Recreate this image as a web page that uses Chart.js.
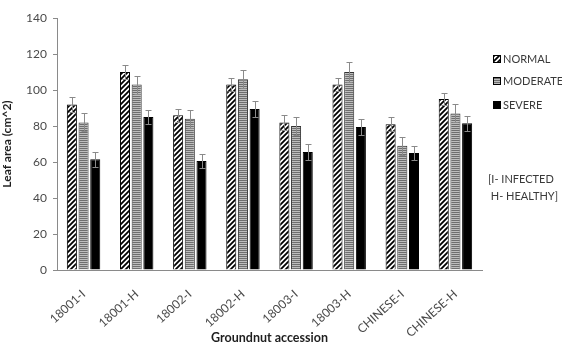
<!DOCTYPE html>
<html>
<head>
<meta charset="utf-8">
<script src="https://cdn.jsdelivr.net/npm/chart.js@4/dist/chart.umd.min.js"></script>
<style>
  html, body { margin: 0; padding: 0; background: #fff; }
  #wrap { width: 562px; height: 345px; position: relative; }
</style>
</head>
<body>
<div id="wrap"><canvas id="c" width="562" height="345"></canvas></div>
<script>
// Groundnut accessions and leaf area (cm^2) per disease level
const categories = ['18001-I', '18001-H', '18002-I', '18002-H', '18003-I', '18003-H', 'CHINESE-I', 'CHINESE-H'];
const normal   = [92, 110, 86, 103, 82, 103, 81, 95];
const moderate = [82, 103, 84, 106, 80, 110, 69, 87];
const severe   = [61.5, 85, 60.5, 89.5, 65.5, 79.5, 65, 81.5];
// standard errors
const normalErr   = [4, 4, 3.5, 3.5, 4, 3.7, 4, 3.5];
const moderateErr = [5, 5, 5, 5, 5, 5.4, 5, 5];
const severeErr   = [4, 4, 4, 4.5, 4.3, 4.4, 4, 4.3];
const seriesNames = ['NORMAL', 'MODERATE', 'SEVERE'];
const yTicks = [0, 20, 40, 60, 80, 100, 120, 140];
const noteLines = ['[I- INFECTED', ' H- HEALTHY]'];

const FONT = 'Lato, "Open Sans", sans-serif';

function diagPattern() {
  const s = 5;
  const t = document.createElement('canvas');
  t.width = s; t.height = s;
  const g = t.getContext('2d');
  g.fillStyle = '#fff';
  g.fillRect(0, 0, s, s);
  g.strokeStyle = '#000';
  g.lineWidth = 1.8;
  g.beginPath();
  g.moveTo(-1, s + 1); g.lineTo(s + 1, -1);
  g.moveTo(-1, 1); g.lineTo(1, -1);
  g.moveTo(s - 1, s + 1); g.lineTo(s + 1, s - 1);
  g.stroke();
  return g.createPattern(t, 'repeat');
}
function hLinePattern() {
  const t = document.createElement('canvas');
  t.width = 4; t.height = 2;
  const g = t.getContext('2d');
  g.fillStyle = '#bdbdbd';
  g.fillRect(0, 0, 4, 2);
  g.fillStyle = '#6e6e6e';
  g.fillRect(0, 0, 4, 1);
  return g.createPattern(t, 'repeat');
}
const fills = [diagPattern(), hLinePattern(), '#000000'];
const errs = [normalErr, moderateErr, severeErr];

// error bars with caps
const errorBars = {
  id: 'errorBars',
  afterDatasetsDraw(chart) {
    const ctx = chart.ctx;
    const y = chart.scales.y;
    ctx.save();
    ctx.strokeStyle = '#8a8a8a';
    ctx.lineWidth = 1;
    chart.data.datasets.forEach((ds, di) => {
      const meta = chart.getDatasetMeta(di);
      meta.data.forEach((bar, i) => {
        const v = ds.data[i], e = errs[di][i];
        const x = Math.round(bar.x) + 0.5;
        const yt = Math.round(y.getPixelForValue(v + e)) + 0.5;
        const yb = Math.round(y.getPixelForValue(v - e)) + 0.5;
        ctx.beginPath();
        ctx.moveTo(x, yt); ctx.lineTo(x, yb);
        ctx.moveTo(x - 3, yt); ctx.lineTo(x + 3, yt);
        ctx.moveTo(x - 3, yb); ctx.lineTo(x + 3, yb);
        ctx.stroke();
      });
    });
    ctx.restore();
  }
};

// legend and note on the right
const sideLegend = {
  id: 'sideLegend',
  afterDraw(chart) {
    const ctx = chart.ctx;
    ctx.save();
    const ys = [59, 81, 105];
    ctx.font = '11px ' + FONT;
    ctx.textBaseline = 'middle';
    ctx.textAlign = 'left';
    seriesNames.forEach((name, i) => {
      ctx.fillStyle = fills[i];
      ctx.fillRect(493, ys[i] - 4, 8, 8);
      ctx.strokeStyle = '#000';
      ctx.lineWidth = 1;
      ctx.strokeRect(493.5, ys[i] - 3.5, 7, 7);
      ctx.fillStyle = '#3a3a3a';
      ctx.fillText(name, 503, ys[i]);
    });
    ctx.fillStyle = '#3a3a3a';
    ctx.fillText(noteLines[0], 488, 179);
    ctx.fillText(noteLines[1], 488, 196);
    ctx.restore();
  }
};

new Chart(document.getElementById('c'), {
  type: 'bar',
  data: {
    labels: categories,
    datasets: [normal, moderate, severe].map((d, i) => ({
      label: seriesNames[i],
      data: d,
      backgroundColor: fills[i],
      borderColor: i === 1 ? '#333' : '#000',
      borderWidth: 1,
      categoryPercentage: 0.66,
      barPercentage: 0.86
    }))
  },
  options: {
    responsive: false,
    animation: false,
    devicePixelRatio: 1,
    layout: { padding: { left: 0, right: 80, top: 18, bottom: 0 } },
    plugins: { legend: { display: false }, tooltip: { enabled: false } },
    scales: {
      x: {
        grid: { display: false },
        border: { display: true, color: '#8a8a8a', width: 1 },
        ticks: {
          color: '#4a4a4a', font: { family: FONT, size: 12 },
          minRotation: 42, maxRotation: 42, autoSkip: false, padding: 9
        },
        title: {
          display: true, text: 'Groundnut accession', color: '#1e1e1e',
          font: { family: FONT, size: 12.5, weight: 'bold' }, padding: { top: 0, bottom: 0 }
        },
        afterFit(s) { s.height = 75; }
      },
      y: {
        min: 0, max: 140,
        afterBuildTicks(s) { s.ticks = yTicks.map(v => ({ value: v })); },
        grid: { display: true, drawOnChartArea: false, tickLength: 4, color: '#8a8a8a' },
        border: { display: true, color: '#8a8a8a', width: 1 },
        ticks: { color: '#4a4a4a', font: { family: FONT, size: 12 }, padding: 6 },
        title: {
          display: true, text: 'Leaf area (cm^2)', color: '#1e1e1e',
          font: { family: FONT, size: 12, weight: 'bold' }, padding: { top: 0, bottom: 4 }
        },
        afterFit(s) { s.width = 57; }
      }
    }
  },
  plugins: [errorBars, sideLegend]
});
</script>
</body>
</html>
